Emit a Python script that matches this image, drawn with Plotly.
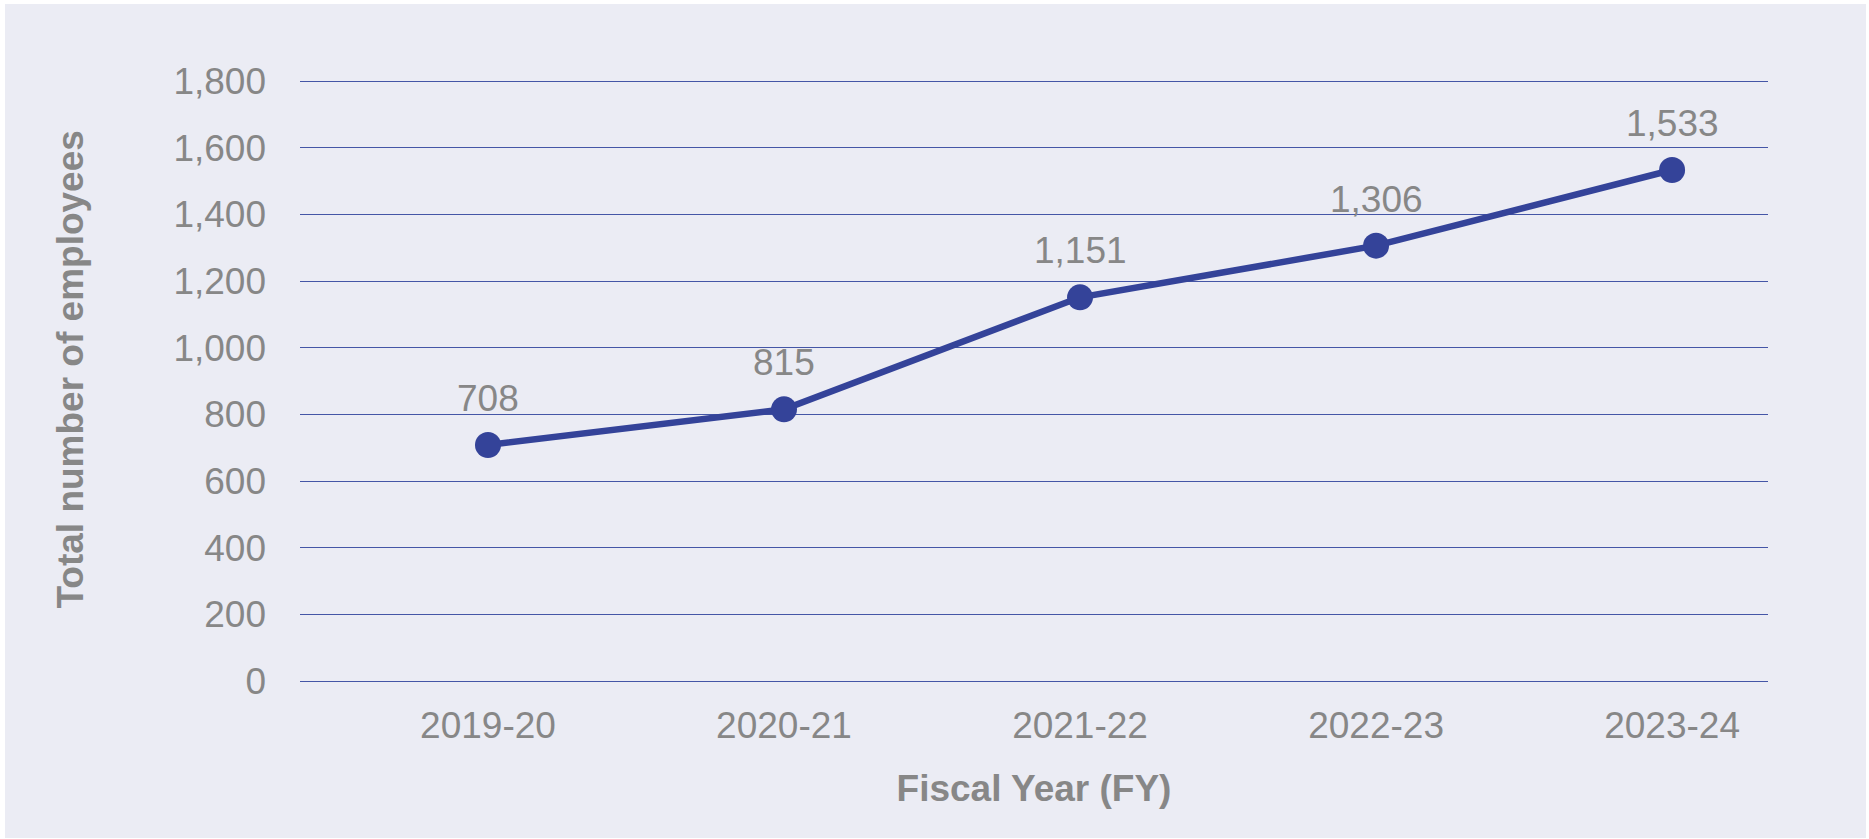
import plotly.graph_objects as go

fiscal_years = ["2019-20", "2020-21", "2021-22", "2022-23", "2023-24"]
employees = [708, 815, 1151, 1306, 1533]
y_ticks = [0, 200, 400, 600, 800, 1000, 1200, 1400, 1600, 1800]

LINE = "#344399"
GRAY = "#878787"
BG = "#EBECF4"
GRID = "#4456A6"
FONT = "Liberation Sans, Arial, sans-serif"

W, H = 1869, 839
L, R, T, B = 300, 101, 78, 155
pw, ph = W - L - R, H - T - B

fig = go.Figure()
fig.add_trace(go.Scatter(
    x=list(range(len(fiscal_years))),
    y=employees,
    mode="lines+markers",
    line=dict(color=LINE, width=6.5),
    marker=dict(color=LINE, size=26),
    hoverinfo="skip",
    showlegend=False,
))

# data labels
for i, v in enumerate(employees):
    fig.add_annotation(x=i, y=v, xref="x", yref="y", text=f"{v:,}",
                       showarrow=False, xanchor="center", yanchor="bottom",
                       yshift=24, font=dict(family=FONT, size=37, color=GRAY))

def px_x(p):
    return (p - L) / pw
def px_y(p):
    return (H - B - p) / ph

# background panel with thin white border
fig.add_shape(type="rect", xref="paper", yref="paper",
              x0=px_x(5), x1=px_x(1866), y0=px_y(838), y1=px_y(4),
              fillcolor=BG, line=dict(width=0), layer="below")

# y axis title
fig.add_annotation(xref="paper", yref="paper", x=px_x(70), y=px_y(369.5),
                   text="<b>Total number of employees</b>", textangle=-90,
                   showarrow=False, xanchor="center", yanchor="middle",
                   font=dict(family=FONT, size=37, color=GRAY))

fig.update_layout(
    width=W, height=H,
    margin=dict(l=L, r=R, t=T, b=B, pad=0),
    paper_bgcolor="white",
    plot_bgcolor="rgba(0,0,0,0)",
    font=dict(family=FONT, color=GRAY, size=37),
)
fig.update_xaxes(
    range=[-0.635, 4.324],
    tickmode="array",
    tickvals=list(range(len(fiscal_years))),
    ticktext=fiscal_years,
    showgrid=False, zeroline=False, showline=False,
    tickfont=dict(family=FONT, size=37, color=GRAY),
    ticklabelstandoff=16,
    title=dict(text="<b>Fiscal Year (FY)</b>", font=dict(family=FONT, size=37, color=GRAY), standoff=30),
)
fig.update_yaxes(
    range=[-9, 1809],
    tickmode="array",
    tickvals=y_ticks,
    ticktext=[f"{v:,}" for v in y_ticks],
    showgrid=True, gridcolor=GRID, gridwidth=1,
    zeroline=True, zerolinecolor=GRID, zerolinewidth=1,
    showline=False,
    tickfont=dict(family=FONT, size=37, color=GRAY),
    ticklabelstandoff=33,
)

fig.write_html("out.html")
